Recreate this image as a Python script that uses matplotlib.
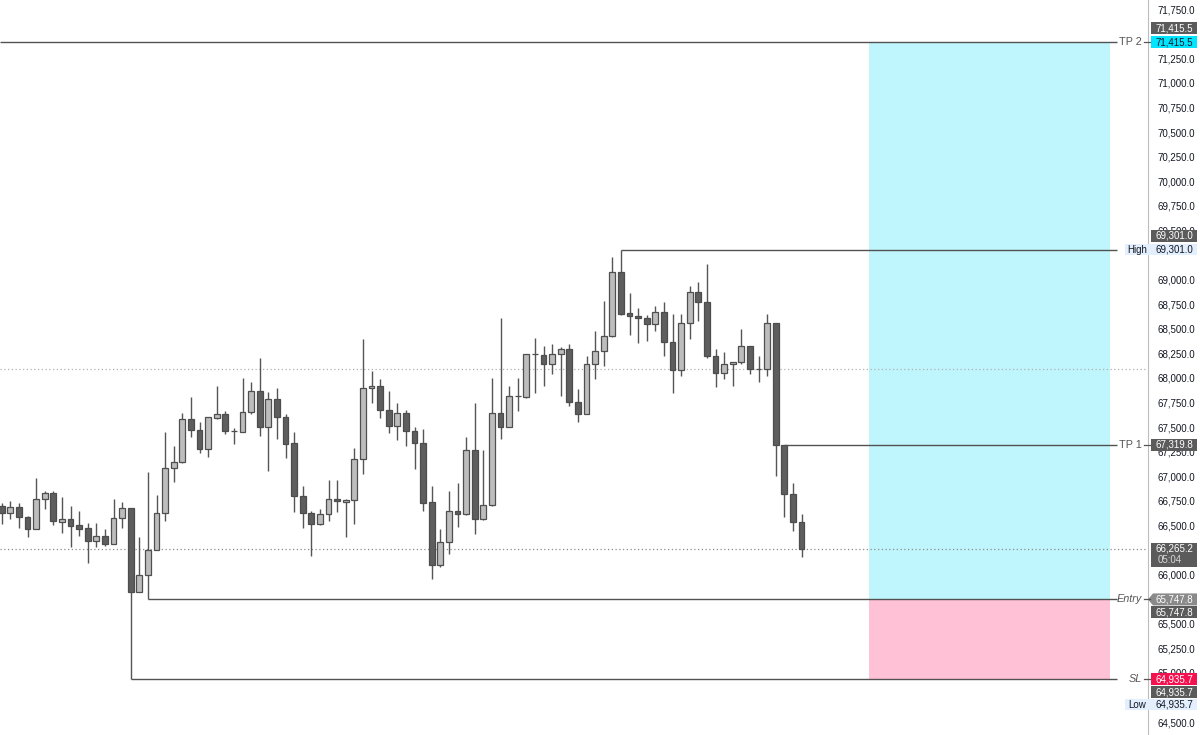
import numpy as np
import matplotlib
matplotlib.use('Agg')
import matplotlib.pyplot as plt
from matplotlib.patches import Rectangle, Polygon

# candle data
opens = [66698, 66630, 66688, 66590, 66467, 66772, 66830, 66540, 66566, 66501,
         66471, 66345, 66393, 66314, 66573, 66677, 65823, 65993, 66250, 66624,
         67087, 67142, 67582, 67467, 67274, 67596, 67636, 67463, 67453, 67654,
         67864, 67498, 67783, 67606, 67335, 66799, 66624, 66515, 66613, 66772,
         66741, 66762, 67179, 67898, 67918, 67674, 67511, 67640, 67463, 67341,
         66735, 66098, 66329, 66650, 66613, 67264, 66562, 66705, 67646, 67501,
         67812, 67803, 68243, 68233, 68145, 68243, 68297, 67758, 67633, 68139,
         68277, 68423, 69074, 68657, 68627, 68612, 68551, 68673, 68362, 68078,
         68562, 68874, 68769, 68220, 68050, 68139, 68159, 68325, 68088, 68088,
         68555, 67319.8, 66817, 66538]
highs = [66731, 66745, 66731, 66600, 66985, 66853, 66847, 66786, 66698, 66644,
         66522, 66522, 66461, 66766, 66738, 66680, 66379, 67047, 66810, 67447,
         67308, 67646, 67809, 67549, 67606, 67921, 67664, 67488, 67996, 67959,
         68206, 67860, 67895, 67630, 67447, 66901, 66647, 66667, 66962, 66962,
         66765, 67284, 68393, 68070, 67986, 67867, 67748, 67674, 67498, 67478,
         66901, 66461, 66850, 66929, 67396, 67748, 67267, 67996, 68606, 67921,
         67996, 68246, 68403, 68325, 68342, 68318, 68342, 67884, 68223, 68480,
         68782, 69227, 69301.0, 68860, 68708, 68640, 68734, 68769, 68647, 68647,
         68935, 68972, 69161, 68294, 68261, 68162, 68497, 68328, 68223, 68647,
         68558, 67320, 66935, 66613]
lows = [66515, 66562, 66477, 66379, 66460, 66670, 66501, 66426, 66284, 66393,
        66115, 66284, 66294, 66310, 66477, 64935.7, 65820, 65747.8, 66248, 66545,
        66945, 67138, 67402, 67240, 67196, 67582, 67427, 67328, 67450, 67630,
        67413, 67054, 67376, 67183, 66634, 66471, 66192, 66505, 66548, 66634,
        66379, 66515, 67020, 67748, 67589, 67437, 67369, 67311, 67074, 66647,
        65955, 66074, 66207, 66487, 66610, 66410, 66560, 66700, 67376, 67498,
        67667, 67800, 67844, 67921, 68040, 67819, 67718, 67549, 67630, 67986,
        68124, 68420, 68640, 68436, 68352, 68379, 68477, 68226, 67844, 68023,
        68393, 68582, 68206, 67908, 67989, 67921, 68138, 68037, 67962, 68023,
        67006, 66589, 66444, 66182]
closes = [66630, 66685, 66589, 66467, 66772, 66830, 66542, 66566, 66494, 66467,
          66342, 66393, 66314, 66573, 66677, 65823, 65993, 66250, 66624, 67087,
          67142, 67582, 67467, 67274, 67603, 67636, 67460, 67462, 67654, 67864,
          67504, 67783, 67606, 67328, 66799, 66624, 66515, 66613, 66772, 66746,
          66762, 67179, 67901, 67918, 67674, 67511, 67640, 67463, 67341, 66731,
          66098, 66329, 66650, 66613, 67264, 66562, 66705, 67640, 67501, 67816,
          67814, 68243, 68244, 68145, 68243, 68297, 67758, 67633, 68139, 68277,
          68423, 69074, 68650, 68627, 68612, 68551, 68673, 68362, 68078, 68562,
          68874, 68769, 68220, 68050, 68139, 68159, 68325, 68088, 68087, 68555,
          67319.8, 66817, 66538, 66265.2]

# levels of the long position
tp2 = 71415.5
high_level = 69301.0
tp1 = 67319.8
entry = 65747.8
stop = 64935.7
last_price = 66265.2
countdown = '05:04'
session_line = 68090.0

sl_bar = 15
entry_bar = 17
high_bar = 72
tp1_bar = 91

# axis ticks, and the ones covered by the price tags
price_ticks = np.arange(64500, 71751, 250)
hidden_ticks = [71500, 69250, 66250, 65750, 64750]

plt.rcParams['font.family'] = ['Liberation Sans', 'DejaVu Sans']

W = 1148.0            # plot width in pixels
ppx = 10.168          # price per pixel
def px(v):
    return v / W

fig = plt.figure(figsize=(12, 7.35), dpi=100)
ax = fig.add_axes([0, 0, W / 1200, 1])
x_left, x_right = -0.198, 133.29
ray_end = 129.69
box_start, box_end = 100.85, 128.87

# position box
ax.add_patch(Rectangle((box_start, entry), box_end - box_start, tp2 - entry,
                       facecolor='#bff6fd', lw=0, zorder=1))
ax.add_patch(Rectangle((box_start, stop), box_end - box_start, entry - stop,
                       facecolor='#ffc1d6', lw=0, zorder=1))

# dotted lines
ax.axhline(last_price, color='#8c8c8c', ls=(0, (1, 2)), lw=0.9, zorder=2)
ax.axhline(session_line, color='#b0b0b0', ls=(0, (1, 2)), lw=0.9, zorder=2)

# candles
o = np.array(opens); h = np.array(highs); l = np.array(lows); c = np.array(closes)
x = np.arange(len(o))
up = c >= o
ax.vlines(x, l, h, color='#555555', lw=1, zorder=3)
ax.bar(x[up], (c - o)[up], bottom=o[up], width=0.68, color='#bdbdbd',
       edgecolor='#4f4f4f', lw=0.9, zorder=4)
ax.bar(x[~up], (o - c)[~up], bottom=c[~up], width=0.68, color='#5e5e5e',
       edgecolor='#4d4d4d', lw=0.9, zorder=4)

# rays
line_kw = dict(color='#525252', lw=1, zorder=3)
ax.hlines(tp2, x_left, ray_end, **line_kw)
ax.hlines(high_level, high_bar, ray_end, **line_kw)
ax.hlines(tp1, tp1_bar, ray_end, **line_kw)
ax.hlines(entry, entry_bar, ray_end, **line_kw)
ax.hlines(stop, sl_bar, ray_end, **line_kw)

ytr = ax.get_yaxis_transform()

def level_label(y, text, italic=False):
    ax.text(px(1142), y, text, transform=ytr, ha='right', va='center',
            color='#555555', fontsize=7.8, style='italic' if italic else 'normal',
            clip_on=False, zorder=7)
    ax.plot([px(1144), px(1150)], [y, y], transform=ytr, color='#555555',
            lw=0.9, clip_on=False, zorder=7)

def price_tag(y, text, face, fg='white', hpx=12, x0=1151, w=46):
    ax.add_patch(Rectangle((px(x0), y - hpx * ppx / 2), px(w), hpx * ppx,
                           transform=ytr, facecolor=face, edgecolor='none',
                           clip_on=False, zorder=6))
    ax.text(px(1174), y, text, transform=ytr, ha='center', va='center',
            color=fg, fontsize=7, clip_on=False, zorder=7)

level_label(tp2, 'TP 2')
level_label(tp1, 'TP 1')
level_label(entry, 'Entry', italic=True)
level_label(stop, 'SL', italic=True)

# pale high / low rows
for y, name, val in [(high_level, 'High', high_level),
                     (stop - 25.5 * ppx, 'Low', stop)]:
    ax.add_patch(Rectangle((px(1125), y - 5.5 * ppx), px(72), 11 * ppx,
                           transform=ytr, facecolor='#e3effd', edgecolor='none',
                           clip_on=False, zorder=6))
    ax.text(px(1137), y, name, transform=ytr, ha='center', va='center',
            color='#131722', fontsize=7, clip_on=False, zorder=7)
    ax.text(px(1174), y, f'{val:,.1f}', transform=ytr, ha='center', va='center',
            color='#131722', fontsize=7, clip_on=False, zorder=7)

price_tag(tp2 + 14 * ppx, f'{tp2:,.1f}', '#5b5b5b')
price_tag(tp2, f'{tp2:,.1f}', '#00e5ff', fg='#131722')
price_tag(high_level + 14 * ppx, f'{high_level:,.1f}', '#5b5b5b')
price_tag(tp1, f'{tp1:,.1f}', '#5b5b5b')
# current price with countdown
ax.add_patch(Rectangle((px(1151), last_price - 18 * ppx), px(46), 23.3 * ppx,
                       transform=ytr, facecolor='#5b5b5b', edgecolor='none',
                       clip_on=False, zorder=6))
ax.text(px(1174), last_price, f'{last_price:,.1f}', transform=ytr, ha='center',
        va='center', color='white', fontsize=7, clip_on=False, zorder=7)
ax.text(px(1170), last_price - 11.5 * ppx, countdown, transform=ytr, ha='center',
        va='center', color='#d8d8d8', fontsize=7, clip_on=False, zorder=7)
# entry tags
ax.add_patch(Polygon([(px(1148), entry), (px(1153), entry + 6 * ppx),
                      (px(1197), entry + 6 * ppx), (px(1197), entry - 6 * ppx),
                      (px(1153), entry - 6 * ppx)], closed=True, transform=ytr,
                     facecolor='#8a8a8a', edgecolor='none', clip_on=False, zorder=6))
ax.text(px(1174), entry, f'{entry:,.1f}', transform=ytr, ha='center', va='center',
        color='white', fontsize=7, clip_on=False, zorder=7)
price_tag(entry - 13 * ppx, f'{entry:,.1f}', '#5b5b5b')
price_tag(stop, f'{stop:,.1f}', '#f5104f')
price_tag(stop - 13 * ppx, f'{stop:,.1f}', '#5b5b5b')

# axes styling
ax.set_xlim(x_left, x_right)
ax.set_ylim(64369.3, 71842.7)
ax.set_xticks([])
ax.yaxis.tick_right()
ax.set_yticks(price_ticks)
ax.yaxis.set_major_formatter(plt.FuncFormatter(
    lambda v, p: '' if round(v) in hidden_ticks else f'{v:,.1f}'))
ax.tick_params(axis='y', length=0, pad=6.5, labelsize=7, labelcolor='#131722')
for side in ['top', 'left', 'bottom']:
    ax.spines[side].set_visible(False)
ax.spines['right'].set_color('#bdbdbd')

fig.savefig('out.png', dpi=100)
